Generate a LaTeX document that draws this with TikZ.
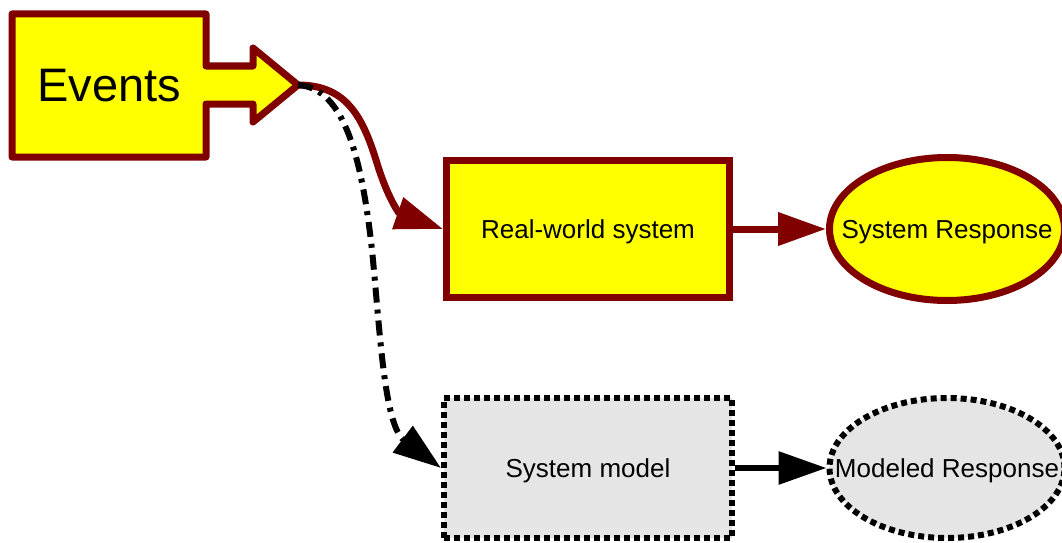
\documentclass[tikz,border=0pt]{standalone}
\usepackage{fontspec}
\setmainfont{Liberation Sans}
\usetikzlibrary{arrows.meta,shapes.geometric}
\definecolor{maroon}{HTML}{800000}
\definecolor{evyellow}{HTML}{FFFF00}
\definecolor{modelgray}{HTML}{E5E5E5}
\begin{document}
\begin{tikzpicture}[x=1pt,y=-1pt,
  nodefont/.style={font=\fontsize{26}{30}\selectfont, text depth=0pt},
  realbox/.style={rectangle, draw=maroon, fill=evyellow, line width=7pt,
    minimum width=283pt, minimum height=137pt, inner sep=0pt, nodefont},
  realell/.style={ellipse, draw=maroon, fill=evyellow, line width=7pt,
    minimum width=235pt, minimum height=143pt, inner ysep=0pt,
    inner xsep=-40pt, nodefont},
  modelbox/.style={rectangle, draw=black, fill=modelgray, line width=6pt,
    dash pattern=on 6pt off 4pt, minimum width=288pt, minimum height=140pt,
    inner sep=0pt, nodefont},
  modelell/.style={ellipse, draw=black, fill=modelgray, line width=6pt,
    dash pattern=on 6pt off 4pt, minimum width=235pt, minimum height=140pt,
    inner ysep=0pt, inner xsep=-40pt, nodefont},
  evshape/.style={draw=maroon, fill=evyellow, line width=7pt, line join=round},
  bigtip/.style={-{Triangle[length=48pt,width=32pt]}},
  reallink/.style={draw=maroon, line width=7pt, bigtip},
  modellink/.style={draw=black, line width=6pt, bigtip},
  modelcurve/.style={draw=black, line width=6pt, bigtip,
    dash pattern=on 15pt off 7pt on 4pt off 7pt}]
\useasboundingbox (0,0) rectangle (1062,543);

% input events: box with an arrow pointing right
\draw[evshape] (12,14) -- (206,14) -- (206,66) -- (253,66) -- (253,48)
  -- (298,85) -- (253,122) -- (253,104) -- (206,104) -- (206,157)
  -- (12,157) -- cycle;
\node[font=\fontsize{47}{56}\selectfont, text depth=0pt, inner sep=0pt]
  (ev) at (109,85) {Events};
\coordinate (evtip) at (298,85);

% real system and its response
\node[realbox] (rw) at (588,229) {Real-world system};
\node[realell] (sr) at (947,229) {System Response};

% model and its response
\node[modelbox] (sm) at (588,468) {System model};
\node[modelell] (mr) at (947,468) {Modeled Response};

% connectors
\draw[reallink] (evtip) .. controls (345,85) and (362,115) .. (376,160)
  .. controls (388,200) and (400,214) .. (rw.west);
\draw[modelcurve] (evtip) .. controls (345,88) and (362,160) .. (372,250)
  .. controls (380,330) and (384,425) .. (sm.west);
\draw[reallink] (rw.east) -- (sr.west);
\draw[modellink] (sm.east) -- (mr.west);
\end{tikzpicture}
\end{document}
